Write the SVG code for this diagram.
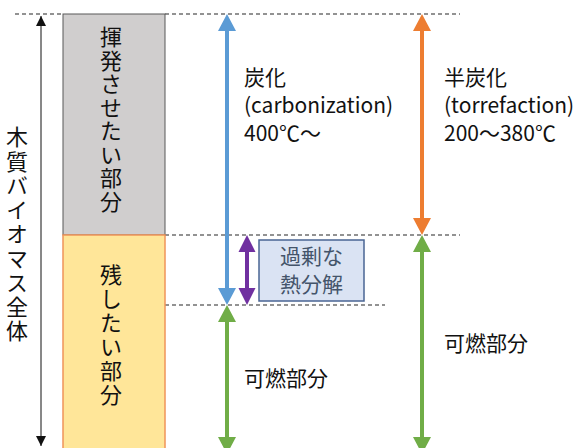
<svg xmlns="http://www.w3.org/2000/svg" width="584" height="448" viewBox="0 0 584 448">
<style>
text{font-family:"Noto Sans CJK JP","Noto Sans",sans-serif;fill:#111;}
.lbl{font-size:21px;}
.vt{font-size:22px;writing-mode:vertical-rl;text-orientation:upright;}
.dash{stroke:#6f6f6f;stroke-width:1.3;stroke-dasharray:4 3;fill:none;}
.box2 text{fill:#44546a;font-size:21px;text-anchor:middle;}
</style>
<defs>
<marker id="ah" viewBox="0 0 10 10" refX="10" refY="5" markerWidth="10" markerHeight="10" markerUnits="userSpaceOnUse" orient="auto-start-reverse"><path d="M0,0 L10,5 L0,10 Z" fill="#111"/></marker>
</defs>
<rect width="584" height="448" fill="#fff"/>
<g id="guides">
<line class="dash" x1="15" y1="14" x2="63" y2="14"/>
<line class="dash" x1="165" y1="14" x2="460" y2="14"/>
<line class="dash" x1="165" y1="235" x2="460" y2="235"/>
<line class="dash" x1="165" y1="305" x2="385" y2="305"/>
</g>
<g id="volatile">
<rect x="63" y="14" width="102" height="221" fill="#d0cece" stroke="#595959" stroke-width="1"/>
<text class="vt" x="111" y="26" letter-spacing="1.5">揮発させたい部分</text>
</g>
<g id="remain">
<rect x="63" y="235" width="102" height="220" fill="#ffe699" stroke="#f0945a" stroke-width="1.5"/>
<text class="vt" x="111" y="264" letter-spacing="2">残したい部分</text>
</g>
<g id="whole">
<text class="vt" x="17" y="126" letter-spacing="2.25">木質バイオマス全体</text>
</g>
<g id="connectors">
<line x1="41" y1="16" x2="41" y2="446" stroke="#111" stroke-width="1" marker-start="url(#ah)" marker-end="url(#ah)"/>
<line x1="227" y1="28" x2="227" y2="291" stroke="#5b9bd5" stroke-width="4"/>
<path d="M227,14 L236,31 L218,31 Z M227,305 L236,288 L218,288 Z" fill="#5b9bd5"/>
<line x1="422" y1="28" x2="422" y2="221" stroke="#ed7d31" stroke-width="4"/>
<path d="M422,14 L431,31 L413,31 Z M422,235 L431,218 L413,218 Z" fill="#ed7d31"/>
<line x1="227" y1="319" x2="227" y2="440" stroke="#70ad47" stroke-width="4"/>
<path d="M227,305 L236,322 L218,322 Z M227,454 L236,437 L218,437 Z" fill="#70ad47"/>
<line x1="422" y1="249" x2="422" y2="440" stroke="#70ad47" stroke-width="4"/>
<path d="M422,235 L431,252 L413,252 Z M422,454 L431,437 L413,437 Z" fill="#70ad47"/>
<line x1="247" y1="249" x2="247" y2="291" stroke="#7030a0" stroke-width="4"/>
<path d="M247,235 L255.5,252 L238.5,252 Z M247,305 L255.5,288 L238.5,288 Z" fill="#7030a0"/>
</g>
<g id="carbonization">
<text class="lbl" x="244" y="85">炭化</text>
<text class="lbl" x="244" y="113">(carbonization)</text>
<text class="lbl" x="244" y="141">400℃～</text>
</g>
<g id="torrefaction">
<text class="lbl" x="444" y="85">半炭化</text>
<text class="lbl" x="444" y="113">(torrefaction)</text>
<text class="lbl" x="444" y="141">200～380℃</text>
</g>
<g id="combustible1"><text class="lbl" x="244" y="386">可燃部分</text></g>
<g id="combustible2"><text class="lbl" x="444" y="351">可燃部分</text></g>
<g id="overdecomp" class="box2">
<rect x="259" y="240" width="105" height="61" fill="#dae3f3" stroke="#4a6594" stroke-width="1.5"/>
<text x="311.5" y="264">過剰な</text>
<text x="311.5" y="292">熱分解</text>
</g>
</svg>
